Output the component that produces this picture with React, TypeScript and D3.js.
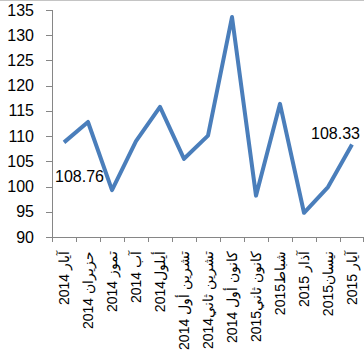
import React from "react";
import * as d3 from "d3";

const categories = [
  "آيار 2014",
  "حزيران 2014",
  "تموز 2014",
  "آب 2014",
  "أيلول2014",
  "تشرين أول 2014",
  "تشرين ثاني2014",
  "كانون أول 2014",
  "كانون ثاني2015",
  "شباط2015",
  "آذار 2015",
  "نيسان2015",
  "آيار 2015",
];
const values = [108.76, 112.8, 99.3, 109.0, 115.8, 105.5, 110.1, 133.6, 98.2, 116.4, 94.8, 99.9, 108.33];
const yTicks = [90, 95, 100, 105, 110, 115, 120, 125, 130, 135];

const W = 364;
const H = 357;
const left = 52;
const right = 364;
const top = 10;
const bottom = 237;

export default function App() {
  const x = d3.scaleBand<string>().domain(categories).range([left, right]).padding(0);
  const y = d3.scaleLinear().domain([90, 135]).range([bottom, top]);
  const cx = (c: string) => (x(c) as number) + x.bandwidth() / 2;
  const line = d3
    .line<number>()
    .x((_, i) => cx(categories[i]))
    .y((d) => y(d));
  const axisColor = "#868686";
  const font = "Arial, 'Liberation Sans', sans-serif";
  const first = values[0];
  const last = values[values.length - 1];
  const fmt = d3.format(".2f");
  return (
    <svg width={W} height={H} style={{ position: "absolute", left: 0, top: 0, background: "#fff" }} fontFamily={font}>
      <line x1={0} x2={W} y1={0.5} y2={0.5} stroke="#c4c4c4" strokeWidth={1} />
      {/* y axis */}
      <line x1={left + 0.5} x2={left + 0.5} y1={top} y2={bottom} stroke={axisColor} />
      {yTicks.map((t) => (
        <g key={t}>
          <line x1={left - 6} x2={left} y1={Math.round(y(t)) + 0.5} y2={Math.round(y(t)) + 0.5} stroke={axisColor} />
          <text x={34} y={y(t)} textAnchor="end" dominantBaseline="central" fontSize={16} fill="#000">
            {t}
          </text>
        </g>
      ))}
      {/* x axis */}
      <line x1={left} x2={right} y1={bottom + 0.5} y2={bottom + 0.5} stroke={axisColor} />
      {categories.map((c) => (
        <line
          key={"t" + c}
          x1={Math.round(x(c) as number) + 0.5}
          x2={Math.round(x(c) as number) + 0.5}
          y1={bottom}
          y2={bottom + 5}
          stroke={axisColor}
        />
      ))}
      <line x1={right - 0.5} x2={right - 0.5} y1={bottom} y2={bottom + 5} stroke={axisColor} />
      {categories.map((c) => (
        <text
          key={"l" + c}
          transform={`translate(${cx(c)},251) rotate(-90)`}
          textAnchor="start"
          direction="rtl"
          dominantBaseline="central"
          fontSize={14}
          fill="#000"
          style={{ direction: "rtl", unicodeBidi: "embed" }}
        >
          {c}
        </text>
      ))}
      <path d={line(values) as string} fill="none" stroke="#4a7ebb" strokeWidth={4} strokeLinejoin="round" />
      <text x={cx(categories[0]) - 9} y={y(first) + 40} fontSize={16} fill="#000">
        {fmt(first)}
      </text>
      <text x={cx(categories[categories.length - 1]) + 8} y={y(last) - 6} textAnchor="end" fontSize={16} fill="#000">
        {fmt(last)}
      </text>
    </svg>
  );
}
